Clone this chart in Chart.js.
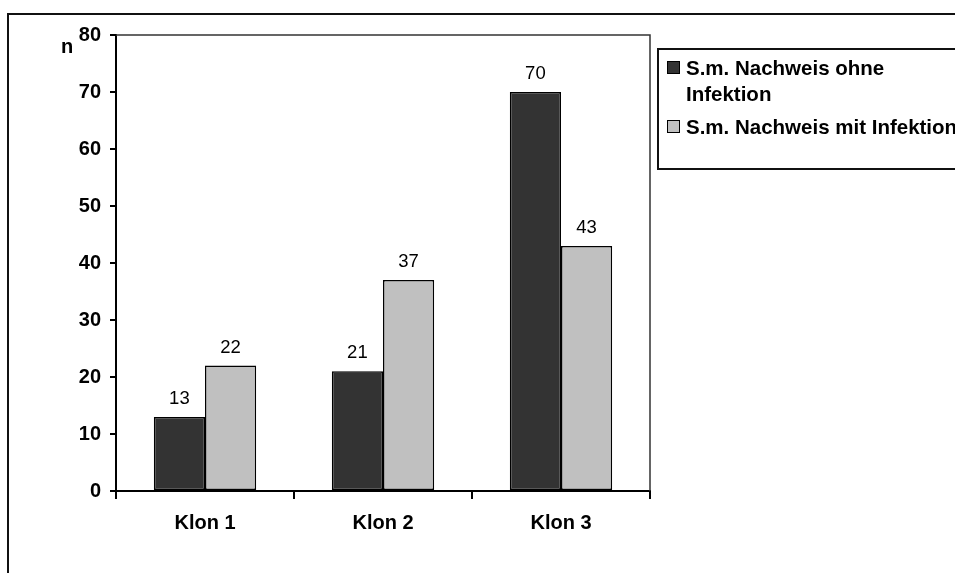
<!DOCTYPE html>
<html>
<head>
<meta charset="utf-8">
<script src="https://cdn.jsdelivr.net/npm/chart.js@4/dist/chart.umd.min.js"></script>
<style>
  html, body { margin: 0; padding: 0; background: #fff; }
  #wrap { width: 955px; height: 573px; }
</style>
</head>
<body>
<div id="wrap"><canvas id="c" width="955" height="573"></canvas></div>
<script>
// Categories and series
const categories = ['Klon 1', 'Klon 2', 'Klon 3'];
const seriesNames = ['S.m. Nachweis ohne Infektion', 'S.m. Nachweis mit Infektion'];
const ohneInfektion = [13, 21, 70];
const mitInfektion = [22, 37, 43];
const seriesColors = ['#333333', '#c0c0c0'];
const yTicks = { min: 0, max: 80, step: 10 };
const yTitle = 'n';

const FONT = '"Liberation Sans", Arial, Helvetica, sans-serif';
Chart.defaults.font.family = FONT;
Chart.defaults.color = '#000';

// Outer frame, plot border, axis title and a boxed legend drawn beside the plot
const decorations = {
  id: 'decorations',
  beforeDraw(chart) {
    const ctx = chart.ctx;
    ctx.save();
    ctx.fillStyle = '#fff';
    ctx.fillRect(0, 0, chart.width, chart.height);
    ctx.strokeStyle = '#111';
    ctx.lineWidth = 2;
    ctx.strokeRect(8, 14, chart.width + 20, chart.height + 20);
    ctx.restore();
  },
  beforeDatasetsDraw(chart) {
    const { ctx, chartArea: a } = chart;
    ctx.save();
    ctx.strokeStyle = '#333';
    ctx.lineWidth = 1.5;
    ctx.beginPath();
    ctx.moveTo(a.left, a.top);
    ctx.lineTo(a.right, a.top);
    ctx.lineTo(a.right, a.bottom);
    ctx.stroke();
    ctx.restore();
  },
  afterDraw(chart) {
    const ctx = chart.ctx;
    ctx.save();
    // axis title
    ctx.font = 'bold 20px ' + FONT;
    ctx.fillStyle = '#000';
    ctx.textBaseline = 'alphabetic';
    ctx.textAlign = 'left';
    ctx.fillText(yTitle, 61, 53);

    // legend box
    const bx = 658, by = 49, bh = 120;
    ctx.strokeStyle = '#111';
    ctx.lineWidth = 2;
    ctx.strokeRect(bx, by, chart.width, bh);

    const maxW = 275, lineH = 26;
    let y = 75;
    chart.data.datasets.forEach((ds) => {
      ctx.font = 'bold 20.5px ' + FONT;
      // wrap words to the space available in the box
      const words = ds.label.split(' ');
      const lines = [];
      let cur = '';
      words.forEach((w) => {
        const t = cur ? cur + ' ' + w : w;
        if (ctx.measureText(t).width > maxW && cur) { lines.push(cur); cur = w; }
        else cur = t;
      });
      if (cur) lines.push(cur);

      ctx.fillStyle = ds.backgroundColor;
      ctx.fillRect(667, y - 14, 13, 13);
      ctx.strokeStyle = '#000';
      ctx.lineWidth = 1;
      ctx.strokeRect(667.5, y - 13.5, 12, 12);

      ctx.fillStyle = '#000';
      lines.forEach((ln, i) => ctx.fillText(ln, 686, y + i * lineH));
      y += lines.length * lineH + 7;
    });
    ctx.restore();
  },
  afterDatasetsDraw(chart) {
    const ctx = chart.ctx;
    ctx.save();
    ctx.font = '18.5px ' + FONT;
    ctx.fillStyle = '#000';
    ctx.textAlign = 'center';
    ctx.textBaseline = 'alphabetic';
    chart.data.datasets.forEach((ds, di) => {
      chart.getDatasetMeta(di).data.forEach((bar, i) => {
        ctx.fillText(String(ds.data[i]), bar.x, bar.y - 13);
      });
    });
    ctx.restore();
  }
};

new Chart(document.getElementById('c'), {
  type: 'bar',
  data: {
    labels: categories,
    datasets: [
      { label: seriesNames[0], data: ohneInfektion, backgroundColor: seriesColors[0] },
      { label: seriesNames[1], data: mitInfektion, backgroundColor: seriesColors[1] }
    ]
  },
  options: {
    responsive: false,
    animation: false,
    devicePixelRatio: 1,
    layout: { padding: { top: 35, left: 0, right: 305, bottom: 0 } },
    datasets: {
      bar: {
        borderColor: '#000',
        borderWidth: 1.5,
        borderSkipped: false,
        categoryPercentage: 0.575,
        barPercentage: 1
      }
    },
    plugins: {
      legend: { display: false },
      tooltip: { enabled: false }
    },
    scales: {
      x: {
        afterFit: (s) => { s.height = 82; },
        grid: { display: true, drawOnChartArea: false, drawTicks: true, tickLength: 8, color: '#000', lineWidth: 2, offset: true },
        border: { display: true, color: '#000', width: 2 },
        ticks: { font: { size: 20, weight: 'bold' }, color: '#000', padding: 12, maxRotation: 0 }
      },
      y: {
        min: yTicks.min,
        max: yTicks.max,
        afterFit: (s) => { s.width = 116; },
        grid: { display: true, drawOnChartArea: false, drawTicks: true, tickLength: 6, color: '#000', lineWidth: 2 },
        border: { display: true, color: '#000', width: 2 },
        ticks: { stepSize: yTicks.step, font: { size: 20, weight: 'bold' }, color: '#000', padding: 9 }
      }
    }
  },
  plugins: [decorations]
});
</script>
</body>
</html>
